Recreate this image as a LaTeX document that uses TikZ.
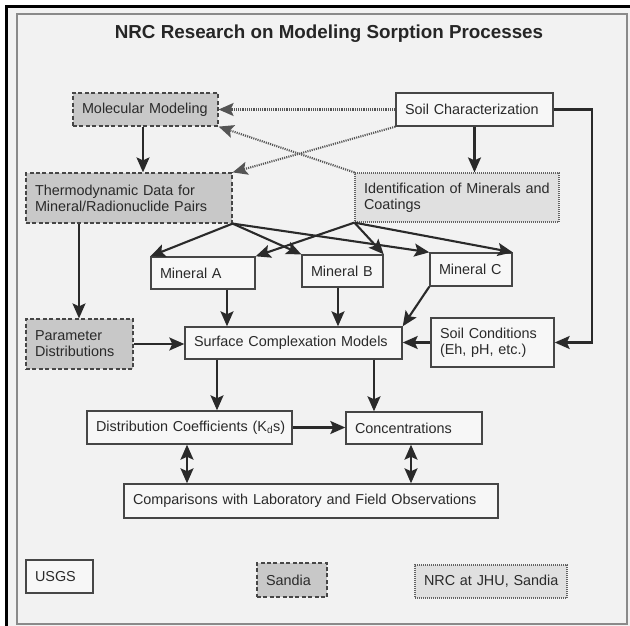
\documentclass[tikz,border=0pt]{standalone}
\usepackage{fontspec}
\setmainfont{Liberation Sans}
\usetikzlibrary{arrows.meta,calc}
\definecolor{bg}{HTML}{F2F2F2}
\definecolor{dgray}{HTML}{C8C8C8}
\definecolor{lgray}{HTML}{E0E0E0}
\definecolor{wbox}{HTML}{F7F7F7}
\definecolor{ink}{HTML}{2A2A2A}
\definecolor{edge}{HTML}{464646}
\definecolor{frameg}{HTML}{8A8A8A}
\newcommand\mkbox[7]{%
  \pgfmathsetmacro\bxW{#5-#3}%
  \pgfmathsetmacro\bxH{#6-#4}%
  \pgfmathsetmacro\bxT{#5-#3-18}%
  \pgfmathsetmacro\bxX{(#3+#5)/2}%
  \pgfmathsetmacro\bxY{(#4+#6)/2}%
  \node[#1, minimum width=\bxW pt, minimum height=\bxH pt, text width=\bxT pt] (#2) at (\bxX,\bxY) {#7};}
\begin{document}
\begin{tikzpicture}[x=1pt,y=-1pt,
  every node/.style={font=\fontsize{14.4}{16.2}\selectfont, text=ink},
  base/.style={rectangle, inner xsep=9pt, inner ysep=0pt, align=left, line width=1.4pt, draw=edge},
  plainbox/.style={base, fill=wbox},
  sandbox/.style={base, fill=dgray, dash pattern=on 4pt off 2.4pt, line width=1.2pt},
  jhubox/.style={base, fill=lgray, draw=edge!85, dash pattern=on 1pt off 1pt, line width=1.2pt},
  tipk/.tip={Stealth[length=15pt,width=13pt,inset=3pt]},
  arr/.style={draw=ink, line width=2.1pt, -tipk},
  darr/.style={draw=ink, line width=2.1pt, tipk-tipk},
  dotarr/.style={draw=ink!80, line width=2.1pt, dash pattern=on 1.1pt off 1.1pt, -tipk}
]
\useasboundingbox (0,0) rectangle (630,626);
\fill[white] (0,0) rectangle (630,626);
\fill[bg] (6.7,6.7) rectangle (630,626);
\draw[frameg, line width=1.4pt] (17,14) rectangle (627,624);
\draw[black, line width=3pt] (6.7,626) -- (6.7,6.7) -- (630,6.7);

\node[font=\bfseries\fontsize{18.8}{20}\selectfont, anchor=base, text=black!85] (title) at (329,39) {NRC Research on Modeling Sorption Processes};

\mkbox{sandbox}{mol}{73}{93}{218}{126}{Molecular Modeling}
\mkbox{plainbox}{soilchar}{396}{93}{553}{126}{Soil Characterization}
\mkbox{sandbox}{thermo}{26}{173}{232}{223}{Thermodynamic Data for\\Mineral/Radionuclide Pairs}
\mkbox{jhubox}{ident}{355}{173}{559}{222}{\mbox{Identification of Minerals and}\\Coatings}
\mkbox{plainbox}{minA}{151}{257}{255}{289}{Mineral A}
\mkbox{plainbox}{minB}{302}{255}{383}{287}{\mbox{Mineral B}}
\mkbox{plainbox}{minC}{430}{253}{512}{286}{\mbox{Mineral C}}
\mkbox{sandbox}{param}{26}{319}{133}{369}{Parameter\\Distributions}
\mkbox{plainbox}{scm}{185}{327}{402}{359}{\mbox{Surface Complexation Models}}
\mkbox{plainbox}{soilcond}{431}{318}{554}{367}{Soil Conditions\\(Eh, pH, etc.)}
\mkbox{plainbox}{dc}{87}{411}{292}{444}{\mbox{Distribution Coefficients (K\textsubscript{d}s)}}
\mkbox{plainbox}{conc}{346}{412}{482}{444}{Concentrations}
\mkbox{plainbox}{comp}{124}{484}{498}{518}{\mbox{Comparisons with Laboratory and Field Observations}}
\mkbox{plainbox}{usgs}{26}{560}{93}{593}{USGS}
\mkbox{sandbox}{sandia}{257}{563}{327}{597}{Sandia}
\mkbox{jhubox}{nrc}{415}{565}{567}{598}{\mbox{NRC at JHU, Sandia}}

\coordinate (xm) at (143,0);
\coordinate (xt) at (79,0);
\coordinate (xa) at (227,0);
\coordinate (xb) at (338,0);
\coordinate (xs1) at (217,0);
\coordinate (xs2) at (374,0);
\coordinate (xd) at (187,0);
\coordinate (xc) at (411,0);

\draw[dotarr] (soilchar.west) -- (mol.east);
\draw[dotarr] (soilchar.south west) -- (thermo.north east);
\draw[dotarr] (ident.north west) -- (mol.south east);
\draw[arr] (mol.south -| xm) -- (thermo.north -| xm);
\draw[arr] (soilchar.south) -- (soilchar.south |- ident.north);
\draw[arr] (thermo.south -| xt) -- (param.north -| xt);

\draw[arr] (thermo.south east) -- (minA.north west);
\draw[arr] (thermo.south east) -- (minB.north west);
\draw[arr] (thermo.south east) -- (minC.north west);
\draw[arr] (ident.south west) -- (minA.north east);
\draw[arr] (ident.south west) -- (minB.north east);
\draw[arr] (ident.south west) -- (minC.north east);

\draw[arr] (minA.south -| xa) -- (scm.north -| xa);
\draw[arr] (minB.south -| xb) -- (scm.north -| xb);
\draw[arr] (minC.south west) -- (scm.north east);
\draw[arr] (param.east) -- (param.east -| scm.west);
\draw[arr] (soilcond.west) -- (soilcond.west -| scm.east);
\draw[arr] (soilchar.east) -- ++(38,0) |- (soilcond.east);

\draw[arr] (scm.south -| xs1) -- (dc.north -| xs1);
\draw[arr] (scm.south -| xs2) -- (conc.north -| xs2);
\draw[arr] (dc.east) -- (dc.east -| conc.west);
\draw[darr] (dc.south -| xd) -- (comp.north -| xd);
\draw[darr] (conc.south -| xc) -- (comp.north -| xc);
\end{tikzpicture}
\end{document}
